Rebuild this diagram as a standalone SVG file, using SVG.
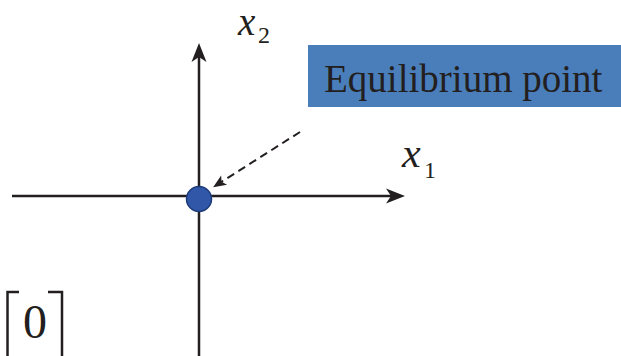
<svg xmlns="http://www.w3.org/2000/svg" width="621" height="356" viewBox="0 0 621 356">
<style>
.ax{stroke:#231f20;stroke-width:2.5;fill:none}
.dash{stroke:#231f20;stroke-width:2;stroke-dasharray:8 5;fill:none}
.t{font-family:"Liberation Serif","Times New Roman",serif;fill:#231f20}
.it{font-style:italic}
</style>
<defs>
<marker id="ah" viewBox="-20 -8 20 16" refX="-6" refY="0" markerWidth="20" markerHeight="16" markerUnits="userSpaceOnUse" orient="auto">
<path d="M0,0 L-19,-7.5 L-14,0 L-19,7.5 Z" fill="#231f20"/>
</marker>
<marker id="ahs" viewBox="-14 -6 14 12" refX="-4" refY="0" markerWidth="14" markerHeight="12" markerUnits="userSpaceOnUse" orient="auto">
<path d="M0,0 L-13,-5.5 L-10,0 L-13,5.5 Z" fill="#231f20"/>
</marker>
</defs>
<rect width="621" height="356" fill="#ffffff"/>
<g id="connectors">
<line class="ax" x1="12" y1="196" x2="399" y2="196" marker-end="url(#ah)"/>
<line class="ax" x1="199" y1="356" x2="199" y2="49" marker-end="url(#ah)"/>
<line class="dash" x1="300" y1="132" x2="216.5" y2="185" marker-end="url(#ahs)"/>
</g>
<g id="equilibrium-dot">
<circle cx="199" cy="199" r="12.5" fill="#3057a8" stroke="#1d3a78" stroke-width="1.5"/>
</g>
<g id="label-box">
<rect x="308" y="45" width="313" height="62" fill="#4a7ebb"/>
<text class="t" x="324" y="92" font-size="39">Equilibrium point</text>
</g>
<g id="x1-label">
<text class="t" x="402" y="167" font-size="42"><tspan class="it">x</tspan></text>
<text class="t" x="424" y="178" font-size="24">1</text>
</g>
<g id="x2-label">
<text class="t" x="238" y="35" font-size="39"><tspan class="it">x</tspan></text>
<text class="t" x="258" y="43" font-size="24">2</text>
</g>
<g id="vector">
<path class="ax" d="M19,292 H7.5 V356"/>
<path class="ax" d="M48,292 H62 V356"/>
<text class="t" x="23" y="338" font-size="48">0</text>
</g>
</svg>
